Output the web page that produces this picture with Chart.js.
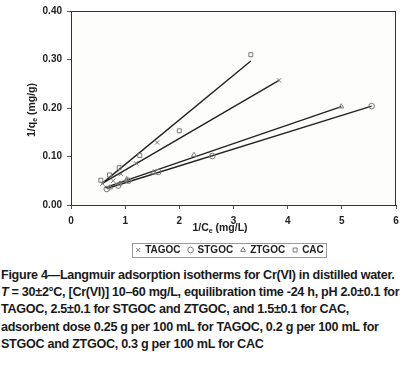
<!DOCTYPE html>
<html>
<head>
<meta charset="utf-8">
<script src="https://cdn.jsdelivr.net/npm/chart.js@4/dist/chart.umd.min.js"></script>
<style>
    body { margin: 0; background: #fff; }
    #wrap { width: 418px; height: 265px; position: relative; }
    #caption {
        font-family: "Liberation Sans", Arial, sans-serif;
        font-weight: bold;
        font-size: 12.6px;
        line-height: 17.2px;
        color: #1a1a1a;
        padding-left: 1px;
        padding-top: 2px;
        white-space: nowrap;
        letter-spacing: -0.3px;
    }
</style>
</head>
<body>
<div id="wrap"><canvas id="chart" width="418" height="265"></canvas></div>
<div id="caption">
Figure 4—Langmuir adsorption isotherms for Cr(VI) in distilled water.<br>
<i>T</i> = 30±2°C, [Cr(VI)] 10–60 mg/L, equilibration time -24 h, pH 2.0±0.1 for<br>
TAGOC, 2.5±0.1 for STGOC and ZTGOC, and 1.5±0.1 for CAC,<br>
adsorbent dose 0.25 g per 100 mL for TAGOC, 0.2 g per 100 mL for<br>
STGOC and ZTGOC, 0.3 g per 100 mL for CAC
</div>
<script>
// Measured points (1/Ce, 1/qe)
const tagocX = [0.58, 0.78, 0.92, 1.20, 1.59, 3.84];
const tagocY = [0.044, 0.050, 0.064, 0.086, 0.129, 0.257];
const stgocX = [0.66, 0.87, 1.06, 1.61, 2.61, 5.55];
const stgocY = [0.033, 0.040, 0.050, 0.068, 0.101, 0.204];
const ztgocX = [0.72, 0.90, 1.03, 1.52, 2.27, 4.99];
const ztgocY = [0.036, 0.044, 0.053, 0.067, 0.103, 0.203];
const cacX = [0.55, 0.71, 0.89, 1.27, 2.00, 3.32];
const cacY = [0.051, 0.062, 0.077, 0.102, 0.153, 0.310];

// Linear fit lines, endpoints
const tagocFitX = [0.57, 3.84];
const tagocFitY = [0.044, 0.257];
const stgocFitX = [0.66, 5.55];
const stgocFitY = [0.034, 0.204];
const ztgocFitX = [0.63, 4.99];
const ztgocFitY = [0.036, 0.203];
const cacFitX = [0.57, 3.32];
const cacFitY = [0.044, 0.297];

const xTicks = [0, 1, 2, 3, 4, 5, 6];
const yTicks = [0.00, 0.10, 0.20, 0.30, 0.40];

const FONT = '"Liberation Sans", Arial, sans-serif';

function pts(xs, ys) {
    return xs.map((x, i) => ({ x: x, y: ys[i] }));
}

function markers(label, xs, ys, style) {
    return {
        type: 'scatter',
        label: label,
        data: pts(xs, ys),
        pointStyle: style,
        pointRadius: style === 'crossRot' ? 3 : 2.8,
        borderColor: '#7a7a7a',
        backgroundColor: 'rgba(0,0,0,0)',
        borderWidth: 1,
        order: 1
    };
}

function fitLine(xs, ys) {
    return {
        type: 'line',
        label: '',
        data: pts(xs, ys),
        borderColor: '#222',
        borderWidth: 1.4,
        pointRadius: 0,
        fill: false,
        order: 2
    };
}

// Frame, axis titles with subscripts and the box round the legend
const decorations = {
    id: 'decorations',
    afterLayout(chart) {
        // the legend sits right of centre in the original
        const lg = chart.legend;
        const shift = 32;
        lg.left += shift;
        lg.right += shift;
        (lg.legendHitBoxes || []).forEach(h => { h.left += shift; });
    },
    beforeDatasetsDraw(chart) {
        const a = chart.chartArea;
        const ctx = chart.ctx;
        ctx.save();
        ctx.fillStyle = '#fdfdfb';
        ctx.fillRect(a.left, a.top, a.right - a.left, a.bottom - a.top);
        ctx.restore();
    },
    afterDraw(chart) {
        const a = chart.chartArea;
        const ctx = chart.ctx;
        ctx.save();
        ctx.strokeStyle = '#333';
        ctx.lineWidth = 1;
        ctx.strokeRect(a.left + 0.5, a.top + 0.5, a.right - a.left - 1, a.bottom - a.top);

        ctx.fillStyle = '#222';
        ctx.textBaseline = 'middle';
        drawSub(ctx, '1/C', 'e', ' (mg/L)', 220, 228);
        ctx.translate(32, 110);
        ctx.rotate(-Math.PI / 2);
        drawSub(ctx, '1/q', 'e', ' (mg/g)', 0, 0);
        ctx.restore();

        const boxes = chart.legend.legendHitBoxes;
        if (boxes && boxes.length) {
            let l = Infinity, r = -Infinity, t = Infinity, b = -Infinity;
            boxes.forEach(h => {
                l = Math.min(l, h.left); r = Math.max(r, h.left + h.width);
                t = Math.min(t, h.top); b = Math.max(b, h.top + h.height);
            });
            ctx.save();
            ctx.strokeStyle = '#999';
            ctx.lineWidth = 1;
            ctx.strokeRect(Math.round(l - 4) + 0.5, Math.round(t - 2) + 0.5, Math.round(r - l + 6), Math.round(b - t + 4));
            ctx.restore();
        }
    }
};

function drawSub(ctx, main, sub, rest, cx, cy) {
    const big = 'bold 10.5px ' + FONT;
    const small = 'bold 7px ' + FONT;
    ctx.font = big;
    const w1 = ctx.measureText(main).width;
    const w3 = ctx.measureText(rest).width;
    ctx.font = small;
    const w2 = ctx.measureText(sub).width;
    let x = cx - (w1 + w2 + w3) / 2;
    ctx.textAlign = 'left';
    ctx.font = big;
    ctx.fillText(main, x, cy);
    x += w1;
    ctx.font = small;
    ctx.fillText(sub, x, cy + 3);
    x += w2;
    ctx.font = big;
    ctx.fillText(rest, x, cy);
}

new Chart(document.getElementById('chart'), {
    data: {
        datasets: [
            markers('TAGOC', tagocX, tagocY, 'crossRot'),
            markers('STGOC', stgocX, stgocY, 'circle'),
            markers('ZTGOC', ztgocX, ztgocY, 'triangle'),
            markers('CAC', cacX, cacY, 'rect'),
            fitLine(tagocFitX, tagocFitY),
            fitLine(stgocFitX, stgocFitY),
            fitLine(ztgocFitX, ztgocFitY),
            fitLine(cacFitX, cacFitY)
        ]
    },
    options: {
        responsive: false,
        animation: false,
        layout: { padding: { top: 11, right: 22, bottom: 0, left: 0 } },
        plugins: {
            tooltip: { enabled: false },
            legend: {
                position: 'bottom',
                labels: {
                    filter: item => item.text !== '',
                    usePointStyle: true,
                    boxWidth: 4,
                    boxHeight: 4,
                    padding: 8,
                    color: '#222',
                    font: { family: FONT, weight: 'bold', size: 10 }
                }
            }
        },
        scales: {
            x: {
                type: 'linear',
                min: 0,
                max: 6,
                afterBuildTicks: s => { s.ticks = xTicks.map(v => ({ value: v })); },
                afterFit: s => { s.height = 32; },
                ticks: {
                    color: '#222',
                    padding: 6,
                    font: { family: FONT, weight: 'bold', size: 10 }
                },
                grid: { drawOnChartArea: false, tickLength: 4, color: '#555' },
                border: { color: '#333', width: 1 }
            },
            y: {
                type: 'linear',
                min: 0,
                max: 0.4,
                afterBuildTicks: s => { s.ticks = yTicks.map(v => ({ value: v })); },
                afterFit: s => { s.width = 71; },
                ticks: {
                    color: '#222',
                    padding: 5,
                    callback: v => v.toFixed(2),
                    font: { family: FONT, weight: 'bold', size: 10 }
                },
                grid: { drawOnChartArea: false, tickLength: 4, color: '#555' },
                border: { color: '#333', width: 1 }
            }
        }
    },
    plugins: [decorations]
});
</script>
</body>
</html>
